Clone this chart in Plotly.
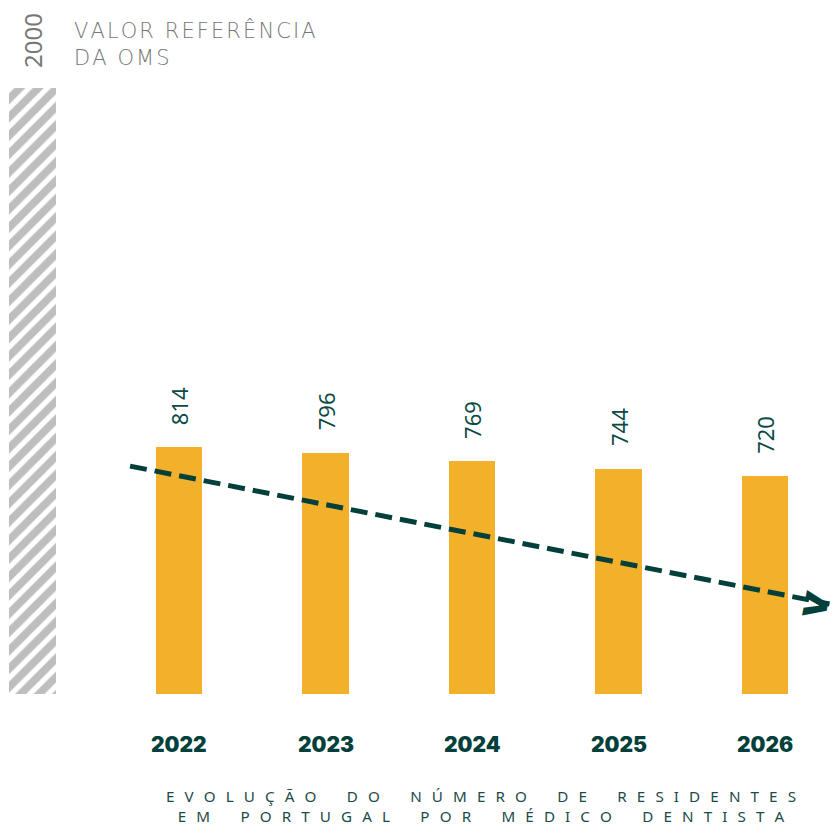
import plotly.graph_objects as go

# Data
years = ["2022", "2023", "2024", "2025", "2026"]
residents = [814, 796, 769, 744, 720]
who_reference = 2000
trend_x = [0.666, 5.44]
trend_y = [752, 297]

x_pos = list(range(1, len(years) + 1))
dark = "#033f3b"
gray = "#777777"


def spaced(text, sep, word_sep=None):
    word_sep = sep if word_sep is None else word_sep
    return sep.join(word_sep if c == " " else c for c in text)


fig = go.Figure()

# WHO reference bar (hatched)
fig.add_trace(go.Bar(
    x=[0], y=[who_reference], width=0.32,
    marker=dict(color="white", line=dict(width=0),
                pattern=dict(shape="/", fgcolor="#7e7e7e", bgcolor="white",
                             size=13, solidity=0.6)),
    hoverinfo="skip", showlegend=False,
))

# yearly bars
fig.add_trace(go.Bar(
    x=x_pos, y=residents, width=0.32,
    marker=dict(color="#f3b12b", line=dict(width=0)),
    showlegend=False,
))

# trend line
fig.add_trace(go.Scatter(
    x=trend_x, y=trend_y, mode="lines",
    line=dict(color=dark, width=5, dash="17px,8px"),
    hoverinfo="skip", showlegend=False,
))
# chevron arrow head
fig.add_annotation(x=trend_x[-1], y=trend_y[-1], text="&gt;", textangle=11,
                   showarrow=False, xanchor="center", yanchor="middle",
                   xshift=-13, yshift=2,
                   font=dict(family="Inter", size=44, color=dark, weight=900))

# value labels
for xp, v in zip(x_pos, residents):
    fig.add_annotation(x=xp, y=v, text=str(v), textangle=-90, showarrow=False,
                       yanchor="bottom", yshift=20,
                       font=dict(family="Noto Sans", size=22, color="#0b4a45"))

# year labels
for xp, yr in zip(x_pos, years):
    fig.add_annotation(x=xp, y=0, text=yr, showarrow=False, yanchor="middle",
                       yshift=-51,
                       font=dict(family="Inter", size=21, color=dark, weight=900))

# reference labels
fig.add_annotation(x=0, y=who_reference, text=str(who_reference), textangle=-90,
                   showarrow=False, yanchor="bottom", yshift=18,
                   font=dict(family="Noto Sans", size=24, color=gray))
fig.add_annotation(x=0.27, y=who_reference,
                   text=spaced("VALOR REFERÊNCIA", "\u200a", " ") + "<br>"
                   + spaced("DA OMS", "\u200a", " "),
                   showarrow=False, xanchor="left", yanchor="bottom", yshift=16,
                   align="left",
                   font=dict(family="DejaVu Sans", size=21, color=gray, weight=300))

# bottom title
fig.add_annotation(x=3.06, y=-373, yshift=1,
                   text=spaced("EVOLUÇÃO DO NÚMERO DE RESIDENTES", "\u2002\u2009") + "<br>"
                   + spaced("EM PORTUGAL POR MÉDICO DENTISTA", "\u2002\u2009"),
                   showarrow=False, xanchor="center", yanchor="middle",
                   font=dict(family="Noto Sans", size=15.2, color="#1b4b49"))

fig.update_layout(
    width=830, height=818,
    margin=dict(l=0, r=0, t=0, b=0),
    plot_bgcolor="white", paper_bgcolor="white",
    xaxis=dict(range=[-0.167, 5.498], visible=False),
    yaxis=dict(range=[-436, 2264], visible=False),
    bargap=0,
)

fig.write_html("out.html")
